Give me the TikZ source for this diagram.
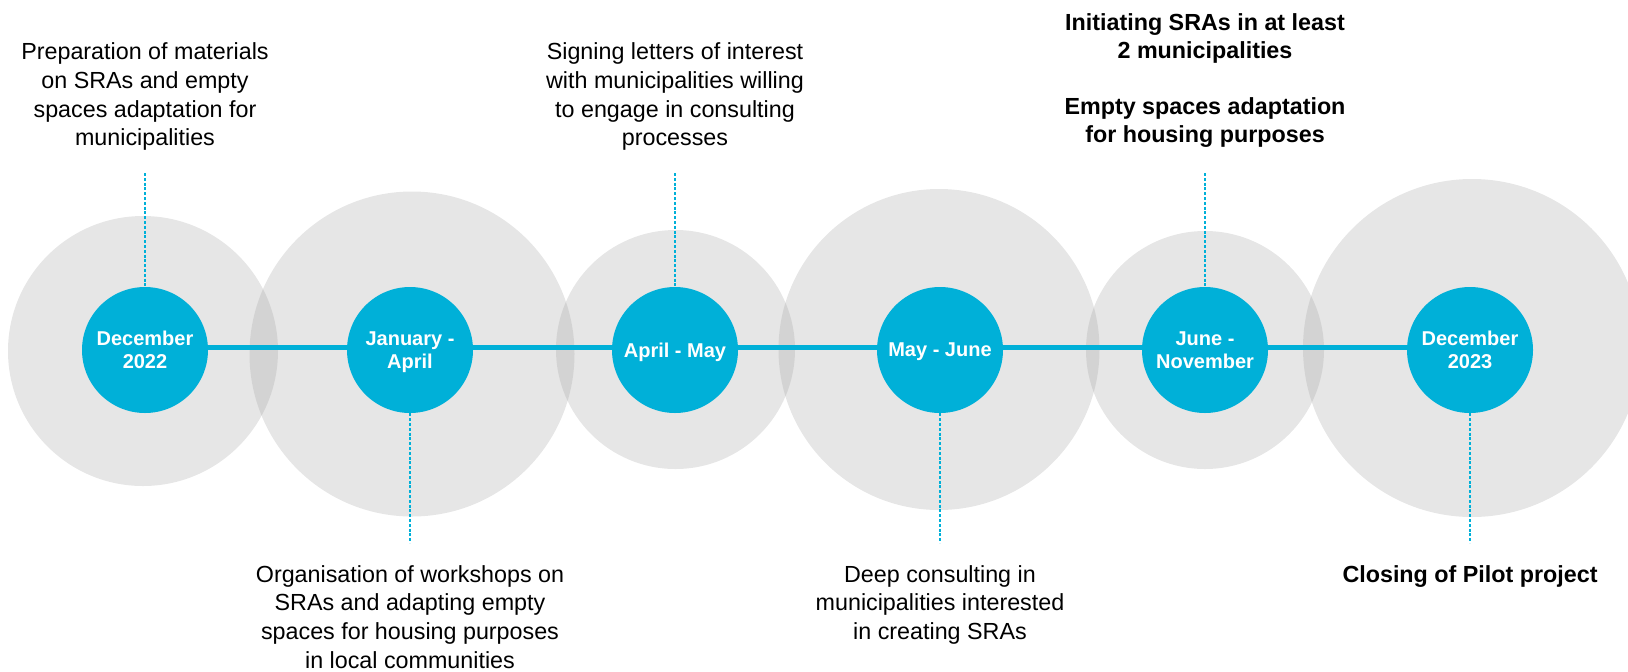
\documentclass[tikz,border=0pt]{standalone}
\usepackage{fontspec}
\setmainfont{Liberation Sans}
\usetikzlibrary{positioning}
\definecolor{tlblue}{RGB}{0,176,216}
\definecolor{halogray}{RGB}{150,150,150}
\tikzset{
  month/.style={circle, fill=tlblue, text=white, minimum size=63pt, inner sep=0pt,
    align=center, text depth=0pt, font=\fontsize{10}{11.65}\selectfont\bfseries},
  task/.style={align=center, inner sep=0pt, font=\fontsize{11.65}{14.35}\selectfont},
  halo/.style={fill=halogray, fill opacity=0.24},
  leader/.style={tlblue, line width=1.4pt, dash pattern=on 1.5pt off 0.9pt},
  timeline/.style={tlblue, line width=2.5pt}
}
\begin{document}
\begin{tikzpicture}[x=0.5pt, y=-0.5pt]
  \useasboundingbox (0,0) rectangle (1628,671);
  \foreach \cx/\cy/\r in {143/351/135, 412/354/162.5, 675.5/349.5/119.5,
                          939/349.5/160.5, 1205/350/119, 1472/348/169}
    \fill[halo] (\cx,\cy) circle (\r);

  \node[month] (dec22)  at (145,350)  {December\\2022};
  \node[month] (janapr) at (410,350)  {January -\\April};
  \node[month] (aprmay) at (675,350)  {April - May};
  \node[month] (mayjun) at (940,350)  {May - June};
  \node[month] (junnov) at (1205,350) {June -\\November};
  \node[month] (dec23)  at (1470,350) {December\\2023};
  \foreach \a/\b in {dec22/janapr, janapr/aprmay, aprmay/mayjun, mayjun/junnov, junnov/dec23}
    \draw[timeline] ([yshift=1.5pt]\a.east) -- ([yshift=1.5pt]\b.west);

  \coordinate (prepleg)  at (145,173);
  \coordinate (workleg)  at (410,543);
  \coordinate (signleg)  at (675,173);
  \coordinate (deepleg)  at (940,543);
  \coordinate (initleg)  at (1205,173);
  \coordinate (closeleg) at (1470,543);

  \node[task, above=11pt of prepleg] (prep) {Preparation of materials\\on SRAs and empty\\spaces adaptation for\\municipalities};
  \node[task, below=11pt of workleg] (work) {Organisation of workshops on\\SRAs and adapting empty\\spaces for housing purposes\\in local communities};
  \node[task, above=11pt of signleg] (sign) {Signing letters of interest\\with municipalities willing\\to engage in consulting\\processes};
  \node[task, below=11pt of deepleg] (deep) {Deep consulting in\\municipalities interested\\in creating SRAs};
  \node[task, font=\fontsize{11.65}{14}\selectfont\bfseries, above=12.5pt of initleg] (init)
    {Initiating SRAs in at least\\2 municipalities\\[14pt]Empty spaces adaptation\\for housing purposes};
  \node[task, font=\fontsize{11.65}{14.35}\selectfont\bfseries, below=11pt of closeleg] (close) {Closing of Pilot project};

  \draw[leader] (prepleg) -- (dec22);
  \draw[leader] (janapr) -- (workleg);
  \draw[leader] (signleg) -- (aprmay);
  \draw[leader] (mayjun) -- (deepleg);
  \draw[leader] (initleg) -- (junnov);
  \draw[leader] (dec23) -- (closeleg);
\end{tikzpicture}
\end{document}
